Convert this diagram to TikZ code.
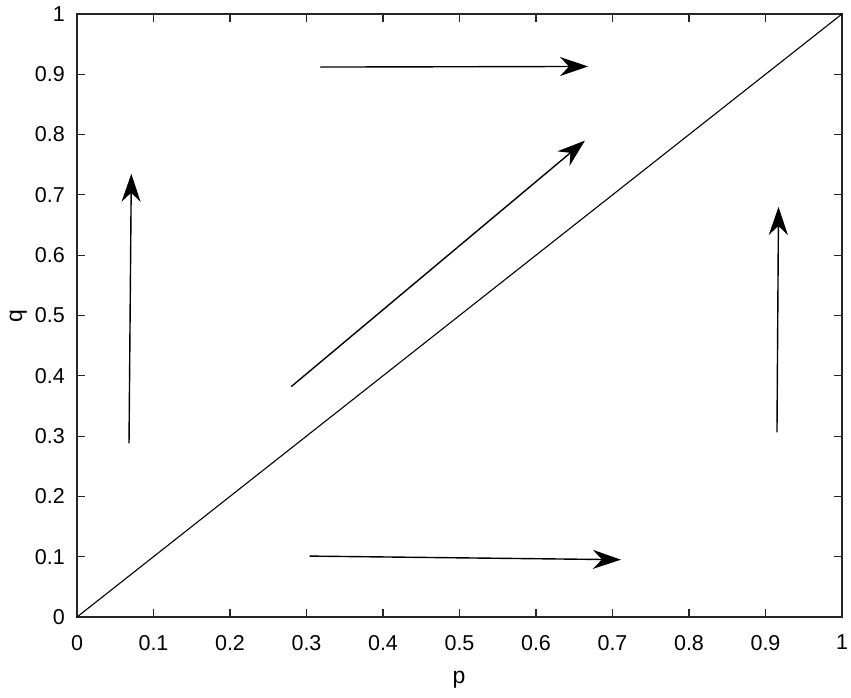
\documentclass[tikz,border=0pt]{standalone}
\usepackage{fontspec}
\setmainfont{Liberation Sans}
\usetikzlibrary{arrows.meta}
\begin{document}
\begin{tikzpicture}[
  axisline/.style={line width=1.3pt, draw=black!85},
  tickline/.style={line width=1.1pt, draw=black!85},
  vec/.style={line width=1.4pt, -{Stealth[length=28pt,width=19pt,inset=9pt]}},
  ticklab/.style={inner sep=0pt, font=\fontsize{21.5}{24}\selectfont},
  axlab/.style={inner sep=0pt, font=\fontsize{23}{26}\selectfont}
]
\useasboundingbox[fill=white] (0,0) rectangle (851pt,698pt);
\begin{scope}[shift={(77pt,81pt)}, x=765pt, y=603pt]
  % frame
  \draw[axisline] (0,0) rectangle (1,1);
  % ticks and labels
  \foreach \v/\t in {0/0,0.1/0.1,0.2/0.2,0.3/0.3,0.4/0.4,0.5/0.5,0.6/0.6,0.7/0.7,0.8/0.8,0.9/0.9,1/1}{
    \draw[tickline] (\v,0) -- ++(0,8pt);
    \draw[tickline] (\v,1) -- ++(0,-8pt);
    \draw[tickline] (0,\v) -- ++(8pt,0);
    \draw[tickline] (1,\v) -- ++(-8pt,0);
    \node[ticklab, anchor=north] (xl\t) at ([yshift=-18pt]\v,0) {\t};
    \node[ticklab, anchor=east] (yl\t) at ([xshift=-12pt]0,\v) {\t};
  }
  % diagonal
  \coordinate (o) at (0,0);
  \coordinate (e) at (1,1);
  \draw[line width=1.1pt] (o) -- (e);
  % vectors
  \coordinate (a1) at (0.318,0.912); \coordinate (a2) at (0.668,0.913);
  \coordinate (b1) at (0.280,0.382); \coordinate (b2) at (0.664,0.790);
  \coordinate (c1) at (0.068,0.288); \coordinate (c2) at (0.071,0.735);
  \coordinate (d1) at (0.915,0.306); \coordinate (d2) at (0.917,0.680);
  \coordinate (f1) at (0.304,0.101); \coordinate (f2) at (0.711,0.095);
  \draw[vec] (a1) -- (a2);
  \draw[vec] (b1) -- (b2);
  \draw[vec] (c1) -- (c2);
  \draw[vec] (d1) -- (d2);
  \draw[vec] (f1) -- (f2);
\end{scope}
\node[axlab, anchor=base] (plab) at (459pt,14pt) {p};
\node[axlab, anchor=base, rotate=90] (qlab) at (22pt,382pt) {q};
\end{tikzpicture}
\end{document}
